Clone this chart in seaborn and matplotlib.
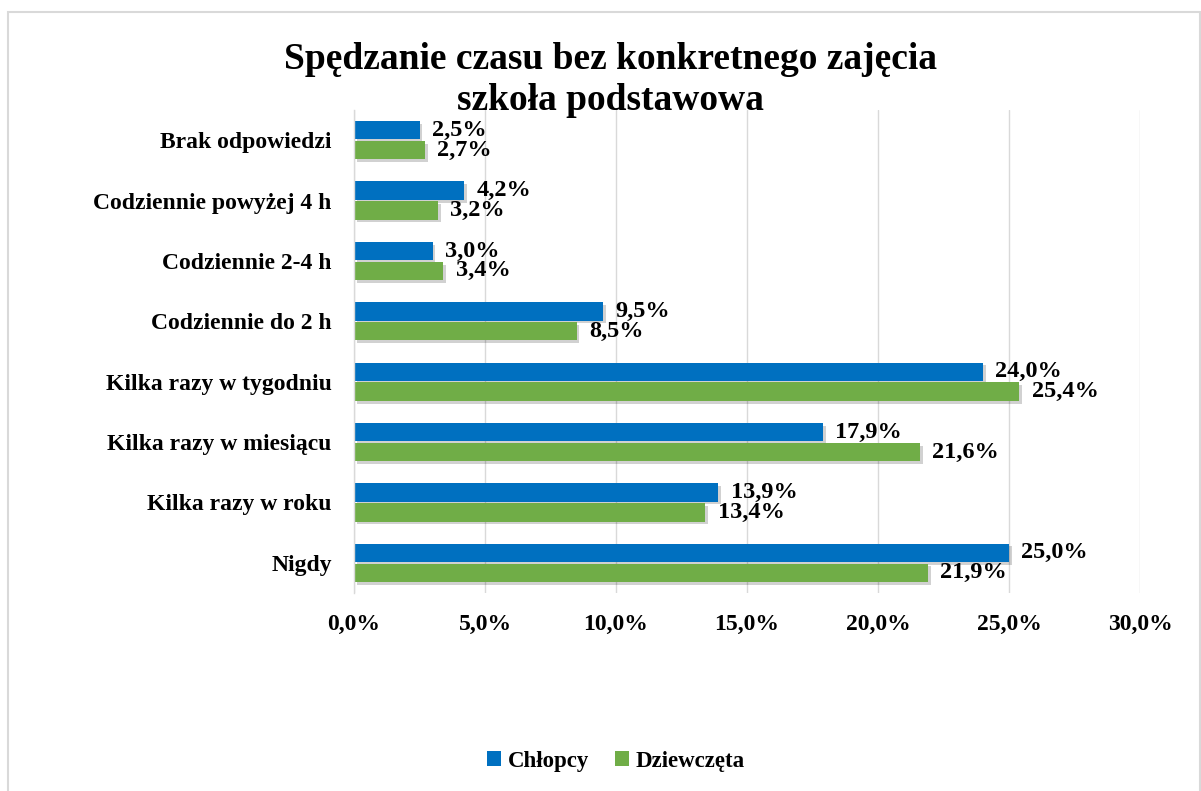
import matplotlib
matplotlib.use("Agg")
import matplotlib.pyplot as plt
import matplotlib.patheffects as pe
from matplotlib.patches import Rectangle, Patch
from matplotlib.ticker import FuncFormatter
import seaborn as sns
import pandas as pd

categories = ["Brak odpowiedzi", "Codziennie powyżej 4 h", "Codziennie 2-4 h",
              "Codziennie do 2 h", "Kilka razy w tygodniu", "Kilka razy w miesiącu",
              "Kilka razy w roku", "Nigdy"]
chlopcy = [2.5, 4.2, 3.0, 9.5, 24.0, 17.9, 13.9, 25.0]
dziewczeta = [2.7, 3.2, 3.4, 8.5, 25.4, 21.6, 13.4, 21.9]
series = ["Chłopcy", "Dziewczęta"]
colors = ["#0070C0", "#70AD47"]
ticks = [0, 5, 10, 15, 20, 25, 30]

df = pd.DataFrame({
    "kategoria": categories * 2,
    "wartosc": chlopcy + dziewczeta,
    "grupa": [series[0]] * len(categories) + [series[1]] * len(categories),
})

sns.set_theme(style="white")
plt.rcParams["font.family"] = ["Liberation Serif", "DejaVu Serif"]
plt.rcParams["font.weight"] = "bold"
plt.rcParams["text.color"] = "black"
plt.rcParams["xtick.color"] = "black"
plt.rcParams["ytick.color"] = "black"

fig = plt.figure(figsize=(12.01, 7.91), dpi=100)
ax = fig.add_axes([354 / 1201, 1 - 593 / 791, (1140 - 354) / 1201, (593 - 110) / 791])

sns.barplot(data=df, x="wartosc", y="kategoria", hue="grupa", order=categories,
            hue_order=series, palette=colors, orient="h", width=0.66, gap=0.08,
            saturation=1, ax=ax, legend=False, linewidth=0)

for bar in ax.patches:
    bar.set_edgecolor("none")
    bar.set_path_effects([pe.SimplePatchShadow(offset=(2, -2), alpha=0.18, shadow_rgbFace="black"),
                          pe.Normal()])

for cont in ax.containers:
    ax.bar_label(cont, labels=[f"{v:.1f}%".replace(".", ",") for v in cont.datavalues],
                 padding=9, fontsize=17.5, fontweight="bold", color="black")

ax.set_xlim(0, 30)
ax.set_ylim(7.5, -0.5)
ax.set_xticks(ticks)
ax.xaxis.set_major_formatter(FuncFormatter(lambda v, p: f"{v:.1f}%".replace(".", ",")))
ax.grid(axis="x", color="#D9D9D9", linewidth=1)
ax.grid(axis="y", visible=False)
ax.set_axisbelow(True)
for s in ["top", "right", "bottom"]:
    ax.spines[s].set_visible(False)
ax.spines["left"].set_color("#D9D9D9")
ax.spines["left"].set_linewidth(1)
ax.tick_params(axis="both", length=0, labelsize=17, labelcolor="black")
ax.tick_params(axis="x", pad=15)
ax.tick_params(axis="y", pad=16)
for lab in ax.get_xticklabels() + ax.get_yticklabels():
    lab.set_fontweight("bold")
ax.set_xlabel("")
ax.set_ylabel("")

fig.text(0.508, 1 - 80 / 791, "Spędzanie czasu bez konkretnego zajęcia\nszkoła podstawowa",
         ha="center", va="center", fontsize=27, fontweight="bold", linespacing=1.2,
         color="black")

handles = [Patch(facecolor=c, edgecolor="none") for c in colors]
fig.legend(handles, series, loc="center", bbox_to_anchor=(0.513, 1 - 761 / 791), ncol=2,
           frameon=False, prop={"size": 16.5, "weight": "bold"}, handlelength=0.6,
           handleheight=0.6, handletextpad=0.3, columnspacing=1.15)

fig.patches.append(Rectangle((8 / 1201, -0.05), (1200 - 8) / 1201, 1.05 - 12 / 791,
                             transform=fig.transFigure, fill=False, edgecolor="#D9D9D9",
                             linewidth=1.5, figure=fig))

fig.savefig("out.png", dpi=100)
